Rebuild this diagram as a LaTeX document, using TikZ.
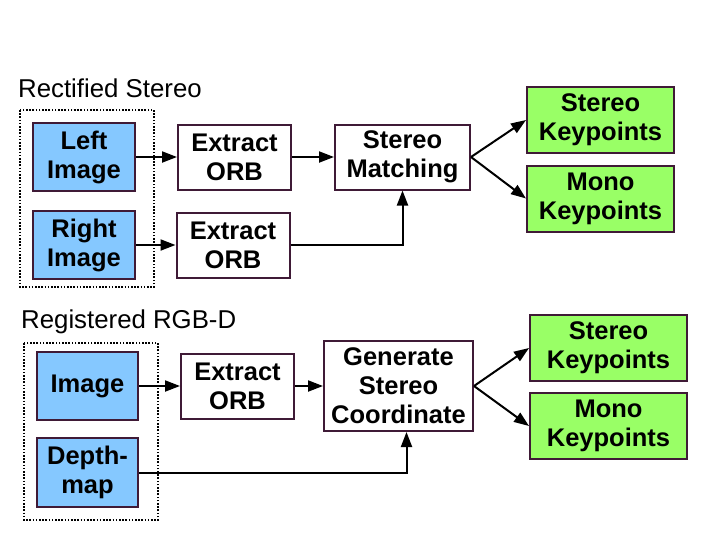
\documentclass[tikz,border=0pt]{standalone}
\usepackage{fontspec}
\setmainfont{Liberation Sans}
\usetikzlibrary{arrows.meta}
\definecolor{bordo}{HTML}{3F1A36}
\definecolor{azzurro}{HTML}{85C8FF}
\definecolor{verde}{HTML}{99FF66}

\begin{document}
\begin{tikzpicture}[x=1pt, y=-1pt,
    box/.style={draw=bordo, line width=2pt, fill=white, align=center, inner sep=0pt,
        font=\fontsize{25.5}{29}\selectfont\bfseries},
    orb/.style={box, minimum width=113pt, minimum height=65pt},
    src/.style={box, fill=azzurro, minimum width=102pt, minimum height=68pt},
    kp/.style={box, fill=verde, minimum height=66pt},
    titolo/.style={anchor=west, inner sep=0pt, font=\fontsize{25.8}{29}\selectfont},
    gruppo/.style={line width=1.6pt, dash pattern=on 1.6pt off 1.6pt},
    freccia/.style={line width=2pt, -{Triangle[length=15pt,width=11pt]}}]
    \useasboundingbox (0,0) rectangle (703,552);
    % STEREO
    \node[titolo] (tst) at (18,88) {Rectified Stereo};
    \draw[gruppo] (20,110) rectangle (154,287);
    \node[src] (left) at (84,157) {Left\\Image};
    \node[src] (right) at (84,245) {Right\\Image};
    \node[orb] (orb1) at (234.5,157) {Extract\\ORB};
    \node[orb] (orb2) at (233,245) {Extract\\ORB};
    \node[box, minimum width=135pt, minimum height=65pt] (match) at (402.5,157) {Stereo\\Matching};
    \node[kp, minimum width=147pt] (sk1) at (600.5,120) {Stereo\\Keypoints};
    \node[kp, minimum width=147pt] (mk1) at (600.5,198.5) {Mono\\Keypoints};
    \draw[freccia] (left) -- (orb1);
    \draw[freccia] (right) -- (orb2);
    \draw[freccia] (orb1) -- (match);
    \draw[freccia] (orb2.east) -| (match.south);
    \draw[freccia] (match.east) -- (sk1.west);
    \draw[freccia] (match.east) -- (mk1.west);
    % RGB-D
    \node[titolo] (trgbd) at (21,322) {Registered RGB-D};
    \draw[gruppo] (24,343) rectangle (158,520);
    \node[src, minimum width=101pt] (img) at (87.5,386) {Image};
    \node[src, minimum width=101pt, minimum height=69pt] (depth) at (87.5,472.5) {Depth-\\map};
    \node[orb] (orb3) at (237.5,386) {Extract\\ORB};
    \node[box, minimum width=149pt, minimum height=90pt] (gen) at (398.5,386) {Generate\\Stereo\\Coordinate};
    \node[kp, minimum width=157pt] (sk2) at (608.5,348) {Stereo\\Keypoints};
    \node[kp, minimum width=157pt] (mk2) at (608.5,426) {Mono\\Keypoints};
    \draw[freccia] (img) -- (orb3);
    \draw[freccia] (orb3) -- (gen);
    \draw[freccia] (depth.east) -| ([xshift=8pt]gen.south);
    \draw[freccia] (gen.east) -- (sk2.west);
    \draw[freccia] (gen.east) -- (mk2.west);
\end{tikzpicture}
\end{document}
